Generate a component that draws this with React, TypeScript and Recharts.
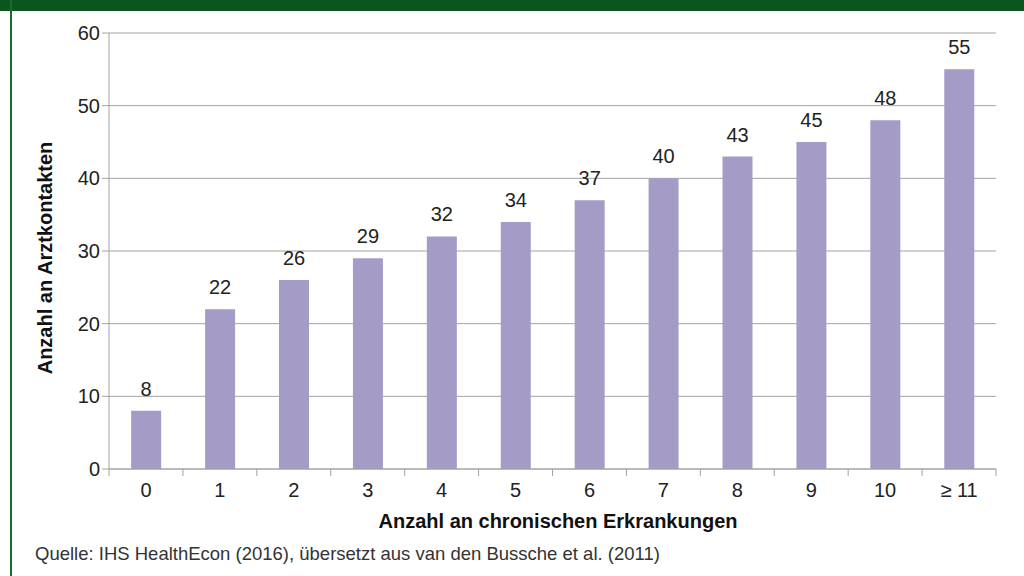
import { BarChart, Bar, XAxis, YAxis, CartesianGrid, LabelList } from 'recharts';

const categories = ['0', '1', '2', '3', '4', '5', '6', '7', '8', '9', '10', '≥ 11'];
const contacts = [8, 22, 26, 29, 32, 34, 37, 40, 43, 45, 48, 55];
const yTicks = [0, 10, 20, 30, 40, 50, 60];

const data = categories.map((c, i) => ({ cat: c, value: contacts[i] }));

const font = '"Liberation Sans", Arial, sans-serif';
const gray = '#a3a3a3';
const margin = { top: 33, right: 28, bottom: 77, left: 40 };
const yAxisWidth = 69;
const halfBand = (1024 - margin.left - yAxisWidth - margin.right) / categories.length / 2;

// category label plus a divider tick on the left edge of the band (and the right edge for the last one)
const CatTick = ({ x, y, payload, index }: any) => {
       const axisY = y - 14;
       return (
              <g>
                     <line x1={x - halfBand} x2={x - halfBand} y1={axisY} y2={axisY + 7} stroke={gray} />
                     {index === categories.length - 1 && (
                            <line x1={x + halfBand} x2={x + halfBand} y1={axisY} y2={axisY + 7} stroke={gray} />
                     )}
                     <text x={x} y={y} dy="0.71em" textAnchor="middle" fill="#222" fontSize={20} fontFamily={font}>
                            {payload.value}
                     </text>
              </g>
       );
};

export default function App() {
       return (
              <div style={{ position: 'absolute', left: 0, top: 0, width: 1024, height: 576, background: '#fff', fontFamily: font, overflow: 'hidden' }}>
                     <div style={{ position: 'absolute', left: 0, top: 0, width: 1024, height: 11, background: '#0a561f' }} />
                     <div style={{ position: 'absolute', left: 10, top: 0, width: 2, height: 576, background: '#1b6b2c' }} />
                     <BarChart width={1024} height={576} data={data} margin={margin} barCategoryGap="30%">
                            <CartesianGrid horizontal vertical={false} stroke={gray} />
                            <XAxis
                                   dataKey="cat"
                                   height={30}
                                   stroke={gray}
                                   tickLine={false}
                                   tickSize={6}
                                   tickMargin={8}
                                   tick={<CatTick />}
                                   interval={0}
                            />
                            <YAxis
                                   domain={[0, 60]}
                                   ticks={yTicks}
                                   width={yAxisWidth}
                                   stroke={gray}
                                   tickSize={7}
                                   tick={{ fill: '#222', fontSize: 20, fontFamily: font }}
                            />
                            <Bar dataKey="value" fill="#a59bc7" isAnimationActive={false}>
                                   <LabelList dataKey="value" position="top" offset={15} style={{ fill: '#222', fontSize: 20, fontFamily: font }} />
                            </Bar>
                     </BarChart>
                     <div style={{ position: 'absolute', left: 45, top: 258, transform: 'translate(-50%, -50%) rotate(-90deg)', whiteSpace: 'nowrap', fontWeight: 'bold', fontSize: 20, color: '#111' }}>
                            Anzahl an Arztkontakten
                     </div>
                     <div style={{ position: 'absolute', left: 558, top: 521, transform: 'translate(-50%, -50%)', whiteSpace: 'nowrap', fontWeight: 'bold', fontSize: 20, color: '#111' }}>
                            Anzahl an chronischen Erkrankungen
                     </div>
                     <div style={{ position: 'absolute', left: 35, top: 554, transform: 'translateY(-50%)', whiteSpace: 'nowrap', fontSize: 18.5, color: '#333' }}>
                            Quelle: IHS HealthEcon (2016), übersetzt aus van den Bussche et al. (2011)
                     </div>
              </div>
       );
}
